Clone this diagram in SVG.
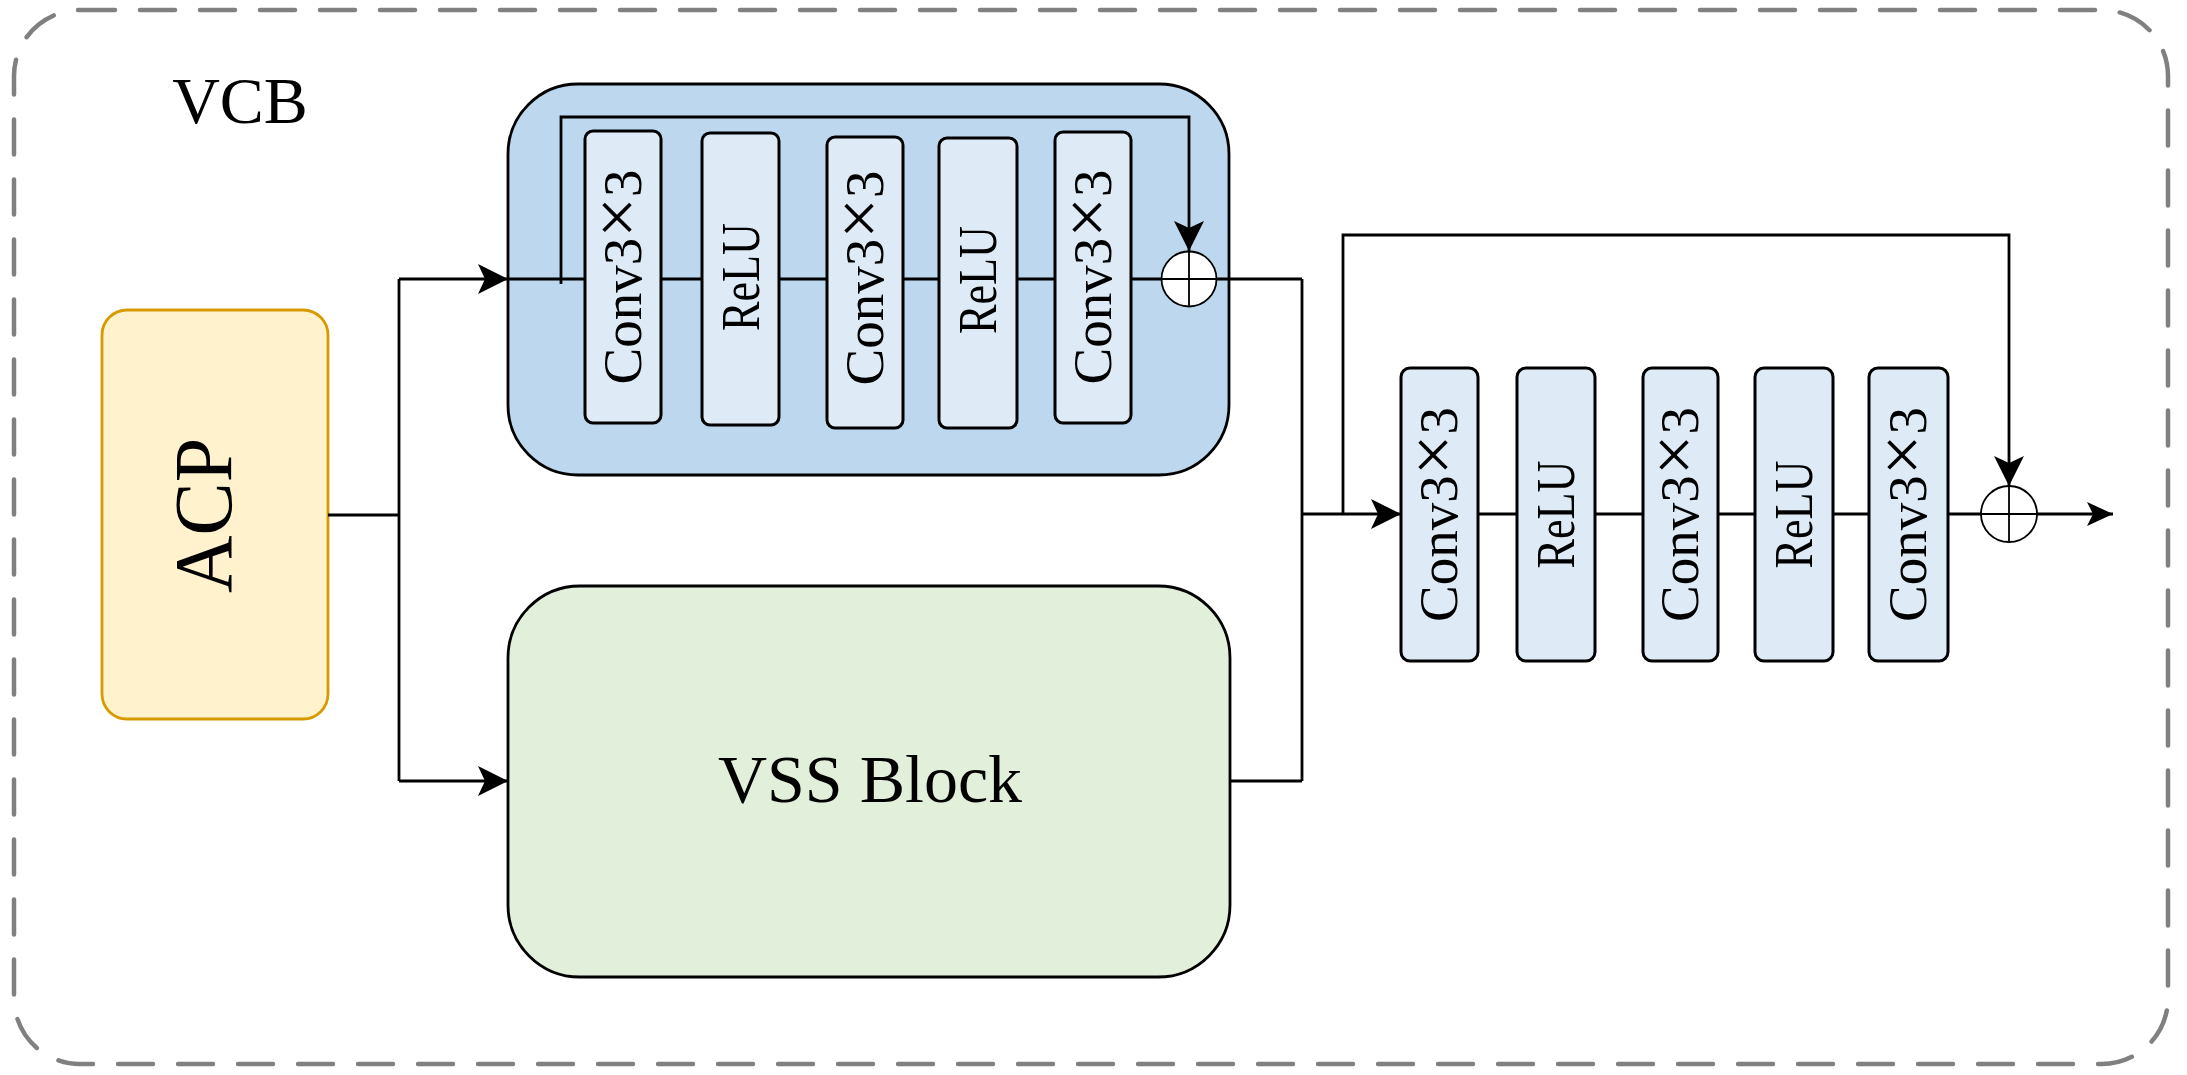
<svg xmlns="http://www.w3.org/2000/svg" width="2187" height="1075" viewBox="0 0 2187 1075">
<style>
.t{font-family:"Liberation Serif","Times New Roman",serif;fill:#000}
.ln{fill:none;stroke:#000;stroke-width:2.8}
.bx{fill:#deebf7;stroke:#000;stroke-width:3}
.sum{fill:#fff;stroke:#000;stroke-width:1.8}
.cv{font-size:55px}
.x{font-size:72px}
</style>
<defs>
<marker id="arr" markerUnits="userSpaceOnUse" markerWidth="30" markerHeight="30" viewBox="0 0 30 30" refX="30" refY="15" orient="auto"><path d="M0,0 L30,15 L0,30 L7,15 Z" fill="#000"/></marker>
<marker id="arrs" markerUnits="userSpaceOnUse" markerWidth="26" markerHeight="24" viewBox="0 0 26 24" refX="26" refY="12" orient="auto"><path d="M0,0 L26,12 L0,24 L6,12 Z" fill="#000"/></marker>
</defs>
<rect width="2187" height="1075" fill="#fff"/>
<g id="frame">
<rect x="14" y="10" width="2154" height="1054" rx="66" fill="none" stroke="#808080" stroke-width="4.5" stroke-dasharray="35 25" stroke-linecap="round"/>
<text class="t" x="240" y="123" font-size="66" text-anchor="middle">VCB</text>
</g>
<g id="acp">
<rect x="102" y="310" width="226" height="409" rx="25" fill="#fff2cc" stroke="#d79b00" stroke-width="2.8"/>
<text class="t" transform="translate(231,515.5) rotate(-90)" font-size="82" text-anchor="middle" textLength="155" lengthAdjust="spacingAndGlyphs">ACP</text>
</g>
<g id="conv-branch">
<rect x="508" y="84" width="721" height="391" rx="70" fill="#bdd7ee" stroke="#000" stroke-width="2.8"/>
</g>
<g id="vss">
<rect x="508" y="586" width="722" height="391" rx="72" fill="#e2efda" stroke="#000" stroke-width="2.8"/>
<text class="t" x="870" y="802" font-size="68" text-anchor="middle">VSS Block</text>
</g>
<g id="connectors">
<path class="ln" d="M328,515 H399"/>
<path class="ln" d="M399,279 V781"/>
<path class="ln" d="M399,279 H508" marker-end="url(#arr)"/>
<path class="ln" d="M399,781 H508" marker-end="url(#arr)"/>
<path class="ln" d="M508,279 H1302"/>
<path class="ln" d="M561,284 V117 H1189 V251" marker-end="url(#arr)"/>
<path class="ln" d="M1302,279 V781"/>
<path class="ln" d="M1230,781 H1302"/>
<path class="ln" d="M1302,514 H1401" marker-end="url(#arr)"/>
<path class="ln" d="M1401,514 H2037"/>
<path class="ln" d="M1343,514 V235 H2009 V486" marker-end="url(#arr)"/>
<path class="ln" d="M2037,514 H2113" marker-end="url(#arrs)"/>
</g>
<g id="c1">
<rect class="bx" x="585" y="131" width="76" height="292" rx="8"/>
<text class="t cv" transform="translate(641,277) rotate(-90)" text-anchor="middle">Conv3<tspan class="x">×</tspan>3</text>
</g>
<g id="r1">
<rect class="bx" x="702" y="133" width="77" height="292" rx="8"/>
<text class="t cv" transform="translate(759,277) rotate(-90)" text-anchor="middle" textLength="108" lengthAdjust="spacingAndGlyphs">ReLU</text>
</g>
<g id="c2">
<rect class="bx" x="827" y="137" width="76" height="291" rx="8"/>
<text class="t cv" transform="translate(883,278) rotate(-90)" text-anchor="middle">Conv3<tspan class="x">×</tspan>3</text>
</g>
<g id="r2">
<rect class="bx" x="939" y="138" width="78" height="290" rx="8"/>
<text class="t cv" transform="translate(996,280) rotate(-90)" text-anchor="middle" textLength="108" lengthAdjust="spacingAndGlyphs">ReLU</text>
</g>
<g id="c3">
<rect class="bx" x="1055" y="132" width="76" height="291" rx="8"/>
<text class="t cv" transform="translate(1111,277) rotate(-90)" text-anchor="middle">Conv3<tspan class="x">×</tspan>3</text>
</g>
<g id="sum1">
<circle class="sum" cx="1189" cy="279" r="27.5"/>
<path class="sum" d="M1189,251.5 V306.5 M1161.5,279 H1216.5"/>
</g>
<g id="c4">
<rect class="bx" x="1401" y="368" width="77" height="293" rx="9"/>
<text class="t cv" transform="translate(1457,514.5) rotate(-90)" text-anchor="middle">Conv3<tspan class="x">×</tspan>3</text>
</g>
<g id="r3">
<rect class="bx" x="1517" y="368" width="78" height="293" rx="9"/>
<text class="t cv" transform="translate(1574,514.5) rotate(-90)" text-anchor="middle" textLength="108" lengthAdjust="spacingAndGlyphs">ReLU</text>
</g>
<g id="c5">
<rect class="bx" x="1643" y="368" width="75" height="293" rx="9"/>
<text class="t cv" transform="translate(1698,514.5) rotate(-90)" text-anchor="middle">Conv3<tspan class="x">×</tspan>3</text>
</g>
<g id="r4">
<rect class="bx" x="1755" y="368" width="78" height="293" rx="9"/>
<text class="t cv" transform="translate(1812,514.5) rotate(-90)" text-anchor="middle" textLength="108" lengthAdjust="spacingAndGlyphs">ReLU</text>
</g>
<g id="c6">
<rect class="bx" x="1869" y="368" width="79" height="293" rx="9"/>
<text class="t cv" transform="translate(1926,514.5) rotate(-90)" text-anchor="middle">Conv3<tspan class="x">×</tspan>3</text>
</g>
<g id="sum2">
<circle class="sum" cx="2009" cy="514" r="28"/>
<path class="sum" d="M2009,486 V542 M1981,514 H2037"/>
</g>
</svg>
